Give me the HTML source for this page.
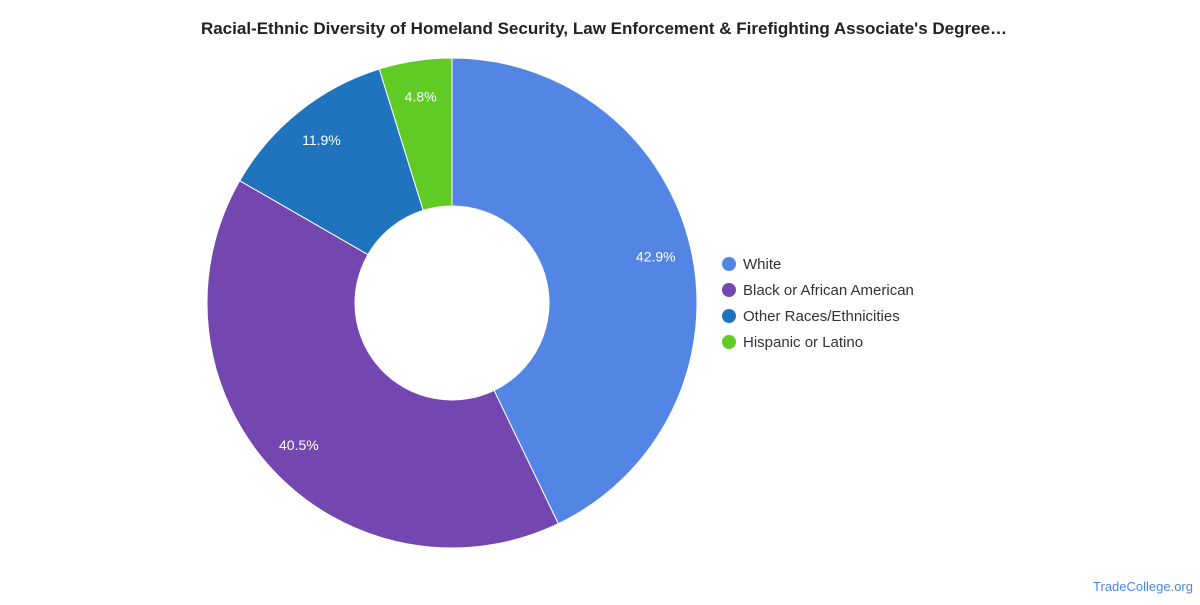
<!DOCTYPE html>
<html><head><meta charset="utf-8"><style>
body{margin:0;width:1200px;height:600px;background:#fff;font-family:"Liberation Sans",sans-serif;overflow:hidden}
</style></head><body>
<svg width="1200" height="600">
<text x="604" y="34" text-anchor="middle" font-size="17" font-weight="bold" fill="#222">Racial-Ethnic Diversity of Homeland Security, Law Enforcement &amp; Firefighting Associate's Degree…</text>
<g id="slices"></g>
<g id="legend"></g>
<text x="1193" y="591" text-anchor="end" font-size="13" fill="#4a86e8">TradeCollege.org</text>
</svg>
<script>
const categories=["White","Black or African American","Other Races/Ethnicities","Hispanic or Latino"];
const values=[42.9,40.5,11.9,4.8];
const labels=["42.9%","40.5%","11.9%","4.8%"];
const colors=["#5385e4","#7446b0","#1f74bd","#5fcb24"];
const cx=452,cy=303,R=245,r=97,LR=209;
const ns="http://www.w3.org/2000/svg";
const g=document.getElementById('slices'),lg=document.getElementById('legend');
const total=values.reduce((a,b)=>a+b,0);
function pt(a,rad){return [cx+rad*Math.sin(a),cy-rad*Math.cos(a)];}
let a0=0;
values.forEach((v,i)=>{
 const a1=a0+v/total*2*Math.PI;
 const big=(a1-a0)>Math.PI?1:0;
 const [x0,y0]=pt(a0,R),[x1,y1]=pt(a1,R),[x2,y2]=pt(a1,r),[x3,y3]=pt(a0,r);
 const p=document.createElementNS(ns,'path');
 p.setAttribute('d',`M${x0},${y0}A${R},${R} 0 ${big} 1 ${x1},${y1}L${x2},${y2}A${r},${r} 0 ${big} 0 ${x3},${y3}Z`);
 p.setAttribute('fill',colors[i]);p.setAttribute('stroke','#fff');p.setAttribute('stroke-width','1');
 
 
 g.appendChild(p);
 const [lx,ly]=pt((a0+a1)/2,LR);
 const t=document.createElementNS(ns,'text');
 t.setAttribute('x',lx);t.setAttribute('y',ly+5);t.setAttribute('text-anchor','middle');
 t.setAttribute('font-size','14');t.setAttribute('fill','#fff');t.textContent=labels[i];
 
 
 g.appendChild(t);
 const c=document.createElementNS(ns,'circle');
 c.setAttribute('cx',729);c.setAttribute('cy',264+26*i);c.setAttribute('r',7);c.setAttribute('fill',colors[i]);
 
 
 lg.appendChild(c);
 const lt=document.createElementNS(ns,'text');
 lt.setAttribute('x',743);lt.setAttribute('y',269+26*i);lt.setAttribute('font-size','15');lt.setAttribute('fill','#333');
 lt.textContent=categories[i];
 
 
 lg.appendChild(lt);
 a0=a1;
});
</script>
</body></html>
